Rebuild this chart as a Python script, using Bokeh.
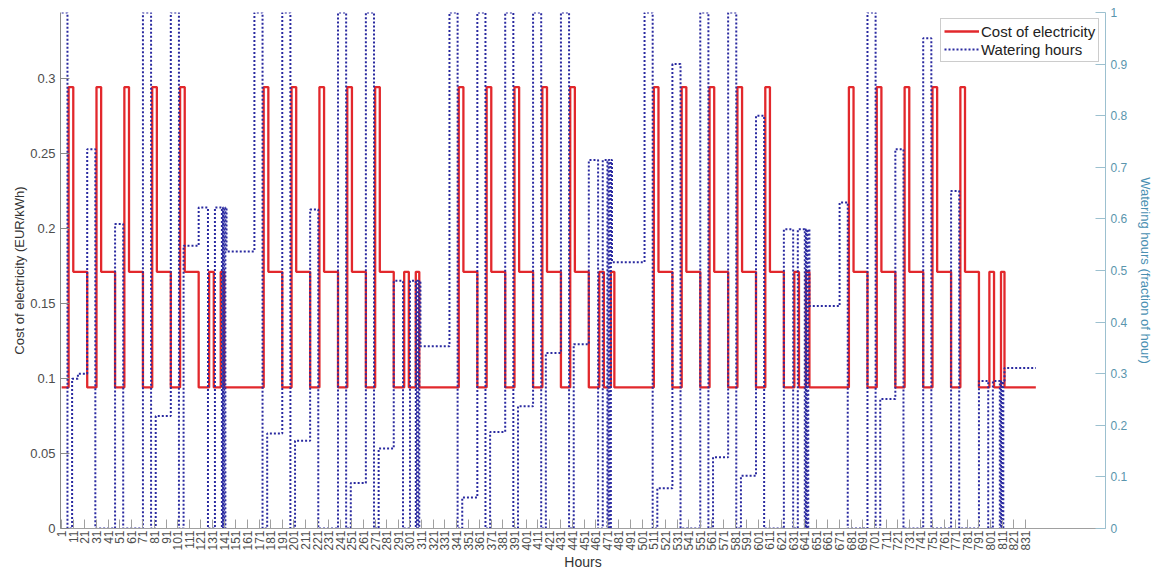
import math
from bokeh.plotting import figure
from bokeh.models import (Range1d, LinearAxis, FixedTicker, NumeralTickFormatter,
                          Legend, LegendItem, ColumnDataSource)
from bokeh.embed import file_html
from bokeh.resources import INLINE

# ---------------- data ----------------
# hourly tariff profiles (EUR/kWh), hour-of-day 0..23
cost_weekday = [0.094, 0.094, 0.094, 0.094, 0.094, 0.094,
                0.294, 0.294, 0.294, 0.294,
                0.171, 0.171, 0.171, 0.171, 0.171, 0.171,
                0.171, 0.171, 0.171, 0.171, 0.171, 0.171,
                0.094, 0.094]
cost_saturday = [0.094, 0.094, 0.094, 0.094, 0.094, 0.094, 0.094,
                 0.171, 0.171, 0.171, 0.171,
                 0.094, 0.094, 0.094, 0.094, 0.094, 0.094,
                 0.171, 0.171, 0.171,
                 0.094, 0.094, 0.094, 0.094]
cost_sunday = [0.094, 0.094, 0.094, 0.094, 0.094, 0.094, 0.094, 0.094,
               0.094, 0.094, 0.094, 0.094, 0.094, 0.094, 0.094, 0.094,
               0.094, 0.094, 0.094, 0.094, 0.094, 0.094, 0.094, 0.094]

day_types = ["wd", "wd", "wd", "wd", "wd", "sat", "sun",
             "wd", "wd", "wd", "wd", "wd", "sat", "sun",
             "wd", "wd", "wd", "wd", "wd", "sat", "sun",
             "wd", "wd", "wd", "wd", "wd", "sat", "sun",
             "wd", "wd", "wd", "wd", "wd", "sat", "sun"]

# watering hours (fraction of hour): (start hour, value) change points
water_steps = [
    (1, 1.0), (6, 0.0), (10, 0.29), (15, 0.30), (23, 0.735), (30, 0.0),
    (47, 0.59), (54, 0.0), (71, 1.0), (78, 0.0), (82, 0.218), (95, 1.0),
    (102, 0.0), (106, 0.548), (119, 0.622), (127, 0.0), (133, 0.622),
    (139, 0.0), (140, 0.622), (141, 0.0), (142, 0.622), (143, 0.537),
    (167, 1.0), (174, 0.0), (178, 0.184), (191, 1.0), (198, 0.0), (202, 0.17),
    (215, 0.618), (222, 0.0), (239, 1.0), (246, 0.0), (250, 0.088), (263, 1.0),
    (270, 0.0), (274, 0.155), (287, 0.48), (295, 0.0), (301, 0.48),
    (306, 0.0), (307, 0.48), (308, 0.0), (309, 0.48), (310, 0.353),
    (335, 1.0), (342, 0.0), (346, 0.06), (359, 1.0), (366, 0.0), (370, 0.187),
    (383, 1.0), (390, 0.0), (394, 0.237), (407, 1.0), (414, 0.0), (418, 0.34),
    (431, 1.0), (438, 0.0), (442, 0.357), (455, 0.714), (463, 0.0), (467, 0.714),
    (471, 0.0), (472, 0.714), (473, 0.0), (474, 0.714), (475, 0.516),
    (503, 1.0), (510, 0.0), (514, 0.078), (527, 0.90), (534, 0.0), (551, 1.0),
    (558, 0.0), (562, 0.138), (575, 1.0), (582, 0.0), (586, 0.102), (599, 0.80),
    (606, 0.0), (623, 0.58), (631, 0.0), (635, 0.58),
    (641, 0.0), (642, 0.58), (643, 0.0), (644, 0.58), (645, 0.431),
    (671, 0.632), (678, 0.0), (695, 1.0), (702, 0.0), (706, 0.251), (719, 0.735),
    (726, 0.0), (743, 0.95), (750, 0.0), (767, 0.654), (774, 0.0),
    (791, 0.286), (799, 0.0), (803, 0.286),
    (809, 0.0), (810, 0.286), (811, 0.0), (812, 0.286), (813, 0.311),
    (840, 0.311),
]

x_ticks = list(range(1, 832, 10))
left_ticks = [0, 0.05, 0.1, 0.15, 0.2, 0.25, 0.3]
right_ticks = [0, 0.1, 0.2, 0.3, 0.4, 0.5, 0.6, 0.7, 0.8, 0.9, 1.0]

# ---------------- build series ----------------
profiles = {"wd": cost_weekday, "sat": cost_saturday, "sun": cost_sunday}
cost = []
for d in day_types:
    cost.extend(profiles[d])
hours = list(range(1, len(cost) + 1))
water_t = [s[0] for s in water_steps]
water_v = [s[1] for s in water_steps]

FONT = "Liberation Sans"
RED = "#e2282c"
BLUE = "#2a2aa0"
TEAL_LINE = "#9cc0cf"
TEAL_TXT = "#5a95ad"
TEAL_LABEL = "#4a90b2"

p = figure(width=1156, height=573, output_backend="svg", toolbar_location=None,
           x_range=Range1d(0, 900), y_range=Range1d(0, 0.3437),
           min_border_left=60, min_border_right=44, min_border_top=12,
           min_border_bottom=45)
p.outline_line_color = None
p.xgrid.visible = False
p.ygrid.visible = False
p.background_fill_color = "white"
p.extra_y_ranges = {"water": Range1d(0, 1)}

# x axis
xa = p.xaxis[0]
xa.ticker = FixedTicker(ticks=x_ticks)
xa.major_label_orientation = math.pi / 2
xa.axis_label = "Hours"
xa.axis_label_text_font = FONT
xa.axis_label_text_font_size = "14px"
xa.axis_label_text_font_style = "normal"
xa.axis_label_text_color = "#333333"
xa.axis_label_standoff = 0
xa.major_label_text_font = FONT
xa.major_label_text_font_size = "12px"
xa.major_label_text_color = "#4d4d4d"
xa.major_label_standoff = 2
xa.axis_line_color = "#a0a0a0"
xa.major_tick_line_color = "#a0a0a0"
xa.major_tick_in = 9
xa.major_tick_out = 0
xa.minor_tick_line_color = None

# left axis
ya = p.yaxis[0]
ya.ticker = FixedTicker(ticks=left_ticks)
ya.formatter = NumeralTickFormatter(format="0.[00]")
ya.axis_label = "Cost of electricity (EUR/kWh)"
ya.axis_label_text_font = FONT
ya.axis_label_text_font_size = "13px"
ya.axis_label_text_font_style = "normal"
ya.axis_label_text_color = "#333333"
ya.axis_label_standoff = 0
ya.major_label_text_font = FONT
ya.major_label_text_font_size = "13px"
ya.major_label_text_color = "#4d4d4d"
ya.major_label_standoff = 5
ya.axis_line_color = "#8a8a8a"
ya.major_tick_line_color = "#8a8a8a"
ya.major_tick_in = 9
ya.major_tick_out = 0
ya.minor_tick_line_color = None

# right axis
ra = LinearAxis(y_range_name="water", ticker=FixedTicker(ticks=right_ticks),
                formatter=NumeralTickFormatter(format="0.[0]"))
ra.axis_label = "Watering hours (fraction of hour)"
ra.axis_label_text_font = FONT
ra.axis_label_text_font_size = "13px"
ra.axis_label_text_font_style = "normal"
ra.axis_label_text_color = TEAL_LABEL
ra.axis_label_standoff = 8
ra.major_label_text_font = FONT
ra.major_label_text_font_size = "12px"
ra.major_label_text_color = TEAL_TXT
ra.major_label_standoff = 5
ra.axis_line_color = TEAL_LINE
ra.major_tick_line_color = TEAL_LINE
ra.major_tick_in = 10
ra.major_tick_out = 0
ra.minor_tick_line_color = None
p.add_layout(ra, "right")

src_cost = ColumnDataSource(dict(h=hours, c=cost))
src_water = ColumnDataSource(dict(t=water_t, w=water_v))

r_cost = p.step(x="h", y="c", source=src_cost, mode="after",
                line_color=RED, line_width=2.3)
r_water = p.step(x="t", y="w", source=src_water, mode="after",
                 y_range_name="water", line_color=BLUE, line_width=2,
                 line_dash="2 2")

legend = Legend(items=[LegendItem(label="Cost of electricity", renderers=[r_cost]),
                       LegendItem(label="Watering hours", renderers=[r_water])],
                location=(880, 466))
legend.label_text_font = FONT
legend.label_text_font_size = "15px"
legend.label_text_color = "#222222"
legend.glyph_width = 35
legend.glyph_height = 18
legend.label_height = 18
legend.label_standoff = 2
legend.spacing = 0
legend.padding = 3
legend.margin = 0
legend.border_line_color = "#9a9a9a"
legend.border_line_width = 1
legend.background_fill_color = "white"
legend.background_fill_alpha = 1.0
p.add_layout(legend)

open("out.html", "w").write(file_html(p, INLINE))
